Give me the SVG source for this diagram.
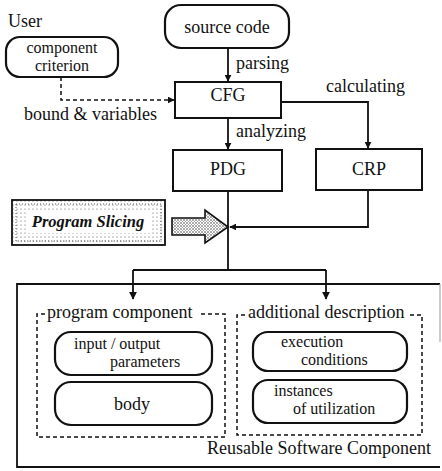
<svg xmlns="http://www.w3.org/2000/svg" width="442" height="471" viewBox="0 0 442 471">
<defs>
<style>
text{font-family:"Liberation Serif","Times New Roman",serif;font-size:18px;fill:#111}
.two{font-size:16px}
.box{fill:#fff;stroke:#111;stroke-width:2}
.rbox{fill:#fff;stroke:#111;stroke-width:2.2}
.ln{fill:none;stroke:#111;stroke-width:1.8}
.dash{fill:none;stroke:#111;stroke-width:1.5;stroke-dasharray:4 3}
.mid{text-anchor:middle}
</style>
<marker id="ah" viewBox="0 0 10 10" refX="9" refY="5" markerWidth="7" markerHeight="7" markerUnits="userSpaceOnUse" orient="auto"><path d="M0,0 L10,5 L0,10 z" fill="#111"/></marker>
<marker id="ah2" viewBox="0 0 10 10" refX="9" refY="5" markerWidth="8" markerHeight="9" markerUnits="userSpaceOnUse" orient="auto"><path d="M0,0 L10,5 L0,10 z" fill="#111"/></marker>
<pattern id="dots" width="4" height="4" patternUnits="userSpaceOnUse"><circle cx="1" cy="1" r="0.6" fill="#555"/></pattern>
<pattern id="stip" width="3" height="3" patternUnits="userSpaceOnUse"><rect width="3" height="3" fill="#fff"/><circle cx="1" cy="1" r="0.8" fill="#444"/><circle cx="2.5" cy="2.5" r="0.5" fill="#777"/></pattern>
</defs>

<g id="connectors">
<path class="ln" d="M228,48 V81" marker-end="url(#ah)"/>
<path class="dash" d="M61,77 V100 H174" marker-end="url(#ah)"/>
<path class="ln" d="M228,118 V149" marker-end="url(#ah)"/>
<path class="ln" d="M281,102 H368 V148" marker-end="url(#ah)"/>
<path class="ln" d="M228,191 V270"/>
<path class="ln" d="M368,190 V227 H230" marker-end="url(#ah)"/>
<path class="ln" d="M133,270 H326"/>
<path class="ln" d="M133,270 V299" marker-end="url(#ah2)"/>
<path class="ln" d="M326,270 V299" marker-end="url(#ah2)"/>
<text x="236" y="69">parsing</text>
<text x="24" y="120">bound &amp; variables</text>
<text x="326" y="92">calculating</text>
<text x="236" y="137">analyzing</text>
</g>

<g id="user">
<text x="8" y="27">User</text>
<rect class="rbox" x="6" y="37" width="112" height="40" rx="14"/>
<text class="mid two" x="62" y="53">component</text>
<text class="mid two" x="62" y="71">criterion</text>
</g>

<g id="source">
<rect class="rbox" x="165" y="5" width="124" height="43" rx="16"/>
<text class="mid" x="227" y="33">source code</text>
</g>

<g id="cfg">
<rect class="box" x="175" y="82" width="106" height="36"/>
<text class="mid" x="228" y="101">CFG</text>
</g>

<g id="pdg">
<rect class="box" x="173" y="150" width="109" height="41"/>
<text class="mid" x="228" y="175">PDG</text>
</g>

<g id="crp">
<rect class="box" x="316" y="149" width="106" height="41"/>
<text class="mid" x="369" y="175">CRP</text>
</g>

<g id="slicing">
<rect x="12" y="200" width="153" height="45" fill="url(#dots)" stroke="#111" stroke-width="1.8"/>
<rect x="16" y="204" width="145" height="37" fill="none" stroke="#333" stroke-width="0.8" stroke-dasharray="1 2"/>
<rect x="26" y="211" width="124" height="22" fill="#fff"/>
<text class="mid" x="88" y="227" style="font-weight:bold;font-style:italic;font-size:16.5px">Program Slicing</text>
<polygon points="172,218 205,218 205,210 228,227 205,243 205,235 172,235" fill="url(#stip)" stroke="#111" stroke-width="1.6"/>
</g>

<g id="reusable">
<path fill="none" stroke="#111" stroke-width="1.8" d="M440,467 H17 V284 H440"/>
<path fill="none" stroke="#aaa" stroke-width="1.2" d="M440,284 V342"/>
<text x="431" y="454" text-anchor="end">Reusable Software Component</text>
</g>

<g id="program-component">
<path class="dash" d="M45,314 H37 V437 H225 V314 H198"/>
<text x="47" y="318">program component</text>
<rect class="rbox" x="55" y="332" width="157" height="43" rx="16"/>
<text class="two" x="74" y="349">input / output</text>
<text class="two" x="110" y="367">parameters</text>
<rect class="rbox" x="55" y="382" width="157" height="43" rx="16"/>
<text class="mid" x="132" y="410">body</text>
</g>

<g id="additional-description">
<path class="dash" d="M245,315 H237 V435 H422 V315 H409"/>
<text x="248" y="318">additional description</text>
<rect class="rbox" x="253" y="332" width="154" height="39" rx="15"/>
<text class="two" x="281" y="347">execution</text>
<text class="two" x="301" y="365">conditions</text>
<rect class="rbox" x="253" y="380" width="154" height="43" rx="15"/>
<text class="two" x="274" y="396">instances</text>
<text class="two" x="293" y="414">of utilization</text>
</g>
</svg>
